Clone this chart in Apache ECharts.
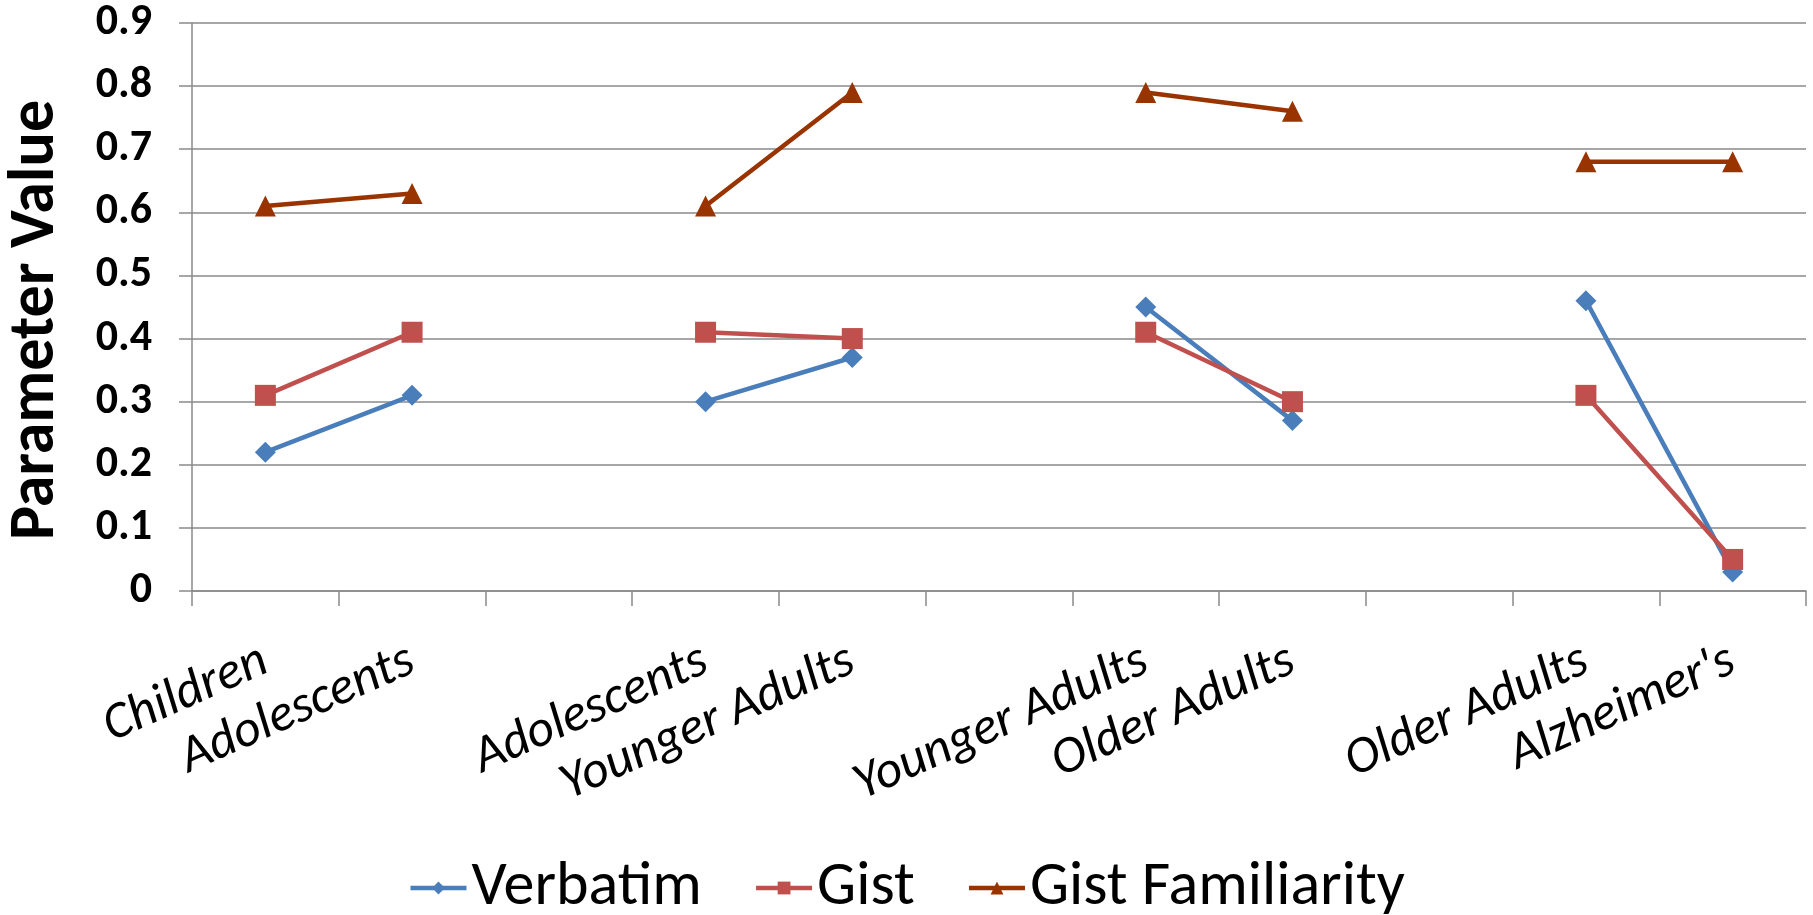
<!DOCTYPE html>
<html>
<head>
<meta charset="utf-8">
<script src="https://cdn.jsdelivr.net/npm/echarts@6/dist/echarts.min.js"></script>
<style>
html,body{margin:0;padding:0;background:#fff;}
#chart{width:1813px;height:915px;}
</style>
</head>
<body>
<div id="chart"></div>
<script>
const categories = ['Children', 'Adolescents', '', 'Adolescents', 'Younger Adults', '', 'Younger Adults', 'Older Adults', '', 'Older Adults', "Alzheimer's"];
const verbatim = [0.22, 0.31, null, 0.30, 0.37, null, 0.45, 0.27, null, 0.46, 0.03];
const gist = [0.31, 0.41, null, 0.41, 0.40, null, 0.41, 0.30, null, 0.31, 0.05];
const gistFamiliarity = [0.61, 0.63, null, 0.61, 0.79, null, 0.79, 0.76, null, 0.68, 0.68];
const seriesNames = ['Verbatim', 'Gist', 'Gist Familiarity'];
const yTicks = {min: 0, max: 0.9, interval: 0.1};

const FONT = 'Carlito, Lato, "Open Sans", sans-serif';
const gridColor = '#8a8a8a';

const chart = echarts.init(document.getElementById('chart'), null, {renderer: 'canvas'});

function mkSeries(name, data, color, symbol) {
  return {
    name: name,
    type: 'line',
    data: data,
    connectNulls: false,
    symbol: symbol,
    symbolSize: 21,
    lineStyle: {color: color, width: 4.5},
    itemStyle: {color: color},
    emphasis: {disabled: true},
    animation: false
  };
}

chart.setOption({
  animation: false,
  backgroundColor: '#ffffff',
  grid: {left: 192, right: 7, top: 23, bottom: 324, containLabel: false, outerBoundsMode: 'none'},
  xAxis: {
    type: 'category',
    data: categories,
    boundaryGap: true,
    axisLine: {show: true, lineStyle: {color: gridColor, width: 1.5}},
    axisTick: {show: true, interval: 0, length: 15, lineStyle: {color: gridColor, width: 1.5}},
    axisLabel: {
      interval: 0, rotate: 24, margin: 68,
      color: '#000', fontFamily: FONT, fontStyle: 'italic', fontSize: 52
    },
    splitLine: {show: false}
  },
  yAxis: {
    type: 'value',
    min: yTicks.min, max: yTicks.max, interval: yTicks.interval,
    name: 'Parameter Value',
    nameLocation: 'middle',
    nameGap: 123,
    nameTextStyle: {color: '#000', fontFamily: FONT, fontWeight: 'bold', fontSize: 64, padding: [0, 26, 0, 0]},
    axisLine: {show: true, lineStyle: {color: gridColor, width: 1.5}},
    axisTick: {show: true, length: 13, lineStyle: {color: gridColor, width: 1.5}},
    axisLabel: {
      margin: 40, color: '#000', fontFamily: FONT, fontWeight: 'bold', fontSize: 44,
      formatter: function (v) { return String(Math.round(v * 10) / 10); }
    },
    splitLine: {show: true, lineStyle: {color: gridColor, width: 1.5}}
  },
  legend: {
    data: seriesNames,
    left: 'center',
    top: 852,
    itemWidth: 56,
    itemHeight: 16,
    itemGap: 52,
    lineStyle: {width: 4.5},
    textStyle: {color: '#000', fontFamily: FONT, fontSize: 62},
    selectedMode: false
  },
  series: [
    mkSeries(seriesNames[0], verbatim, '#4A7EBB', 'diamond'),
    mkSeries(seriesNames[1], gist, '#C0504D', 'rect'),
    mkSeries(seriesNames[2], gistFamiliarity, '#993300', 'triangle')
  ]
});
</script>
</body>
</html>
